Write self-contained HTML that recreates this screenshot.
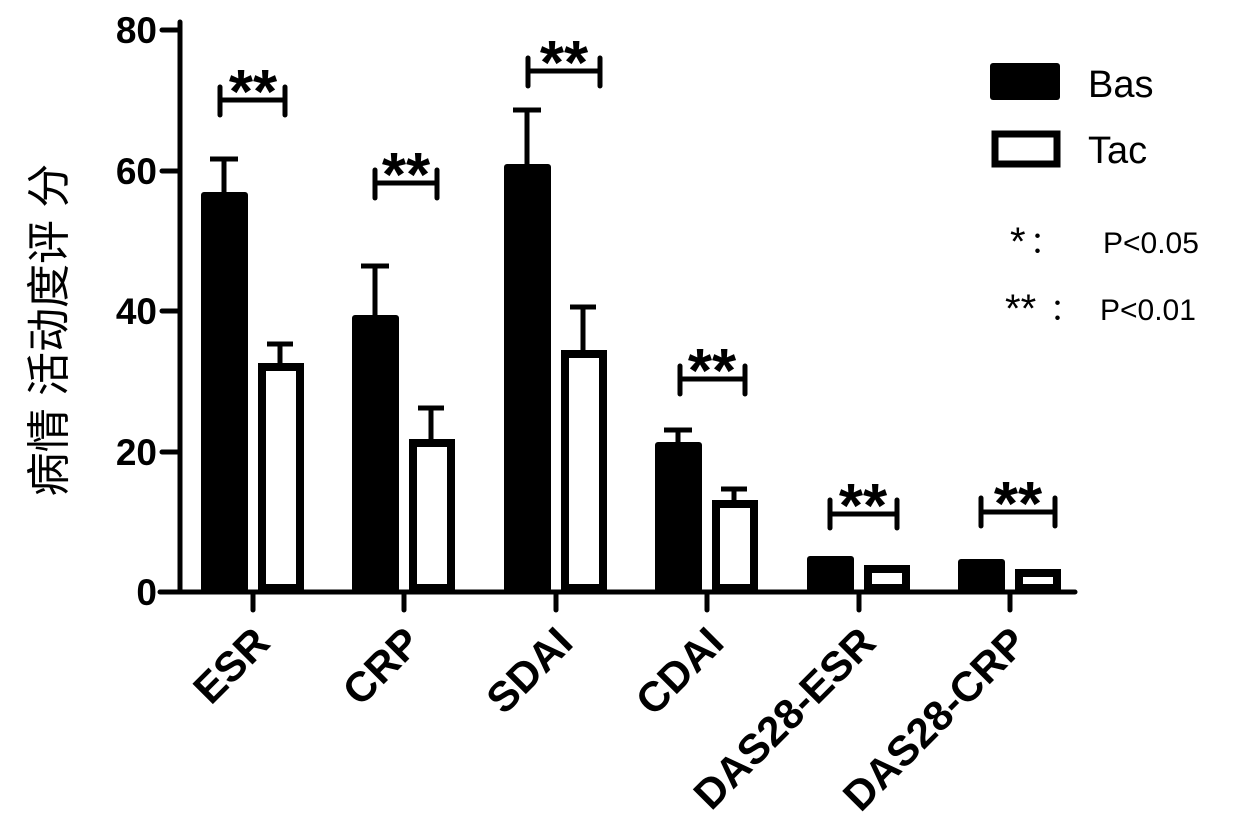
<!DOCTYPE html>
<html><head><meta charset="utf-8"><style>
html,body{margin:0;padding:0;background:#fff;}
svg{display:block;}
.t{font-family:"Liberation Sans",Arial,sans-serif;font-weight:bold;}
</style></head><body>
<svg width="1240" height="831" viewBox="0 0 1240 831" xmlns="http://www.w3.org/2000/svg">
<g stroke="#000" stroke-width="5" fill="none" stroke-linecap="round">
<line x1="180" y1="22" x2="180" y2="592"/>
<line x1="160" y1="592" x2="1075" y2="592"/>
<line x1="162" y1="30" x2="180" y2="30"/>
<line x1="162" y1="171" x2="180" y2="171"/>
<line x1="162" y1="311" x2="180" y2="311"/>
<line x1="162" y1="452" x2="180" y2="452"/>
<line x1="253" y1="592" x2="253" y2="610"/>
<line x1="404" y1="592" x2="404" y2="610"/>
<line x1="556" y1="592" x2="556" y2="610"/>
<line x1="707" y1="592" x2="707" y2="610"/>
<line x1="859" y1="592" x2="859" y2="610"/>
<line x1="1010" y1="592" x2="1010" y2="610"/>
</g>
<g class="t" font-size="37" text-anchor="end">
<text x="157" y="43">80</text><text x="157" y="184">60</text><text x="157" y="324">40</text><text x="157" y="465">20</text><text x="157" y="605">0</text>
</g>
<text x="64" y="330" transform="rotate(-90 64 330)" text-anchor="middle" font-family="'Liberation Sans','Noto Sans CJK SC',sans-serif" font-size="44">病情 活动度评 分</text>
<g fill="#000" stroke="#000">
<g stroke-width="5">
<line x1="224" y1="195" x2="224" y2="159"/><line x1="210" y1="159" x2="238" y2="159"/>
<line x1="280" y1="368" x2="280" y2="344"/><line x1="267" y1="344" x2="293" y2="344"/>
<line x1="375" y1="318" x2="375" y2="266"/><line x1="361" y1="266" x2="389" y2="266"/>
<line x1="431" y1="444" x2="431" y2="408"/><line x1="418" y1="408" x2="444" y2="408"/>
<line x1="527" y1="167" x2="527" y2="110"/><line x1="513" y1="110" x2="541" y2="110"/>
<line x1="583" y1="355" x2="583" y2="307"/><line x1="570" y1="307" x2="596" y2="307"/>
<line x1="678" y1="444" x2="678" y2="430"/><line x1="664" y1="430" x2="692" y2="430"/>
<line x1="734" y1="505" x2="734" y2="489"/><line x1="721" y1="489" x2="747" y2="489"/>
</g>
<g stroke="none">
<rect x="201" y="192" width="47" height="400" rx="3"/>
<rect x="352" y="315" width="47" height="277" rx="3"/>
<rect x="504" y="164" width="47" height="428" rx="3"/>
<rect x="655" y="442" width="47" height="150" rx="3"/>
<rect x="807" y="556" width="47" height="36" rx="3"/>
<rect x="958" y="559" width="47" height="33" rx="3"/>
</g>
<g fill="#fff" stroke-width="8">
<rect x="262" y="367" width="38" height="221"/>
<rect x="413" y="443" width="38" height="145"/>
<rect x="565" y="354" width="38" height="234"/>
<rect x="716" y="504" width="38" height="84"/>
<rect x="868" y="569" width="38" height="19"/>
<rect x="1019" y="573" width="38" height="15"/>
</g>
</g>
<g stroke="#000" stroke-width="5" stroke-linecap="round">
<line x1="220" y1="100" x2="285" y2="100"/><line x1="220" y1="87" x2="220" y2="115"/><line x1="285" y1="87" x2="285" y2="115"/>
<line x1="375" y1="183" x2="437" y2="183"/><line x1="375" y1="170" x2="375" y2="198"/><line x1="437" y1="170" x2="437" y2="198"/>
<line x1="528" y1="71" x2="600" y2="71"/><line x1="528" y1="58" x2="528" y2="86"/><line x1="600" y1="58" x2="600" y2="86"/>
<line x1="680" y1="379" x2="745" y2="379"/><line x1="680" y1="366" x2="680" y2="394"/><line x1="745" y1="366" x2="745" y2="394"/>
<line x1="830" y1="514" x2="897" y2="514"/><line x1="830" y1="500" x2="830" y2="528"/><line x1="897" y1="500" x2="897" y2="528"/>
<line x1="981" y1="512" x2="1055" y2="512"/><line x1="981" y1="498" x2="981" y2="526"/><line x1="1055" y1="498" x2="1055" y2="526"/>
</g>
<g class="t" font-size="62" text-anchor="middle">
<text x="253" y="113">**</text>
<text x="406" y="196">**</text>
<text x="564" y="84">**</text>
<text x="712" y="392">**</text>
<text x="863" y="527">**</text>
<text x="1018" y="525">**</text>
</g>
<g class="t" font-size="42" text-anchor="end">
<text transform="translate(272,645) rotate(-45)">ESR</text>
<text transform="translate(423,645) rotate(-45)">CRP</text>
<text transform="translate(575,645) rotate(-45)">SDAI</text>
<text transform="translate(726,645) rotate(-45)">CDAI</text>
<text transform="translate(878,645) rotate(-45)">DAS28-ESR</text>
<text transform="translate(1029,645) rotate(-45)">DAS28-CRP</text>
</g>
<rect x="990" y="63" width="70" height="37" fill="#000" rx="3"/>
<rect x="995" y="134" width="62" height="30" fill="#fff" stroke="#000" stroke-width="7"/>
<g font-family="'Liberation Sans',Arial,sans-serif" font-size="38">
<text x="1088" y="97">Bas</text>
<text x="1088" y="163">Tac</text>
</g>
<g font-family="'Liberation Sans','Noto Sans CJK SC',sans-serif" font-size="30">
<text x="1010" y="255" font-size="40">*</text><text x="1030" y="253">：</text><text x="1103" y="253">P&lt;0.05</text>
<text x="1005" y="322" font-size="40">**</text><text x="1050" y="320">：</text><text x="1100" y="320">P&lt;0.01</text>
</g>
</svg>
</body></html>
